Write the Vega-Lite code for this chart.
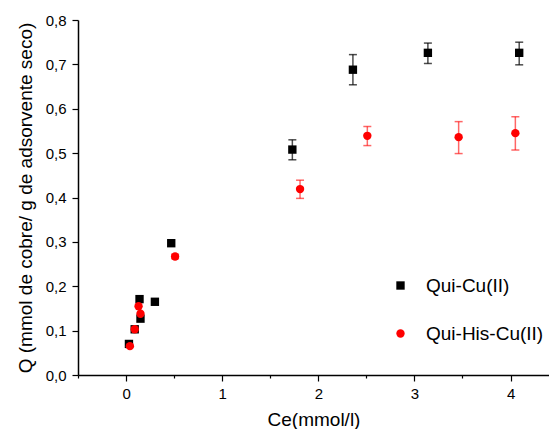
{
  "$schema": "https://vega.github.io/schema/vega-lite/v6.json",
  "width": 471,
  "height": 355,
  "autosize": {"type": "none"},
  "padding": {"left": 78, "top": 20, "right": 0, "bottom": 54},
  "background": "white",
  "config": {
    "view": {"stroke": null},
    "font": "Liberation Sans"
  },
  "data": {
    "values": [
      {"series": "Qui-Cu(II)", "x": 0.03, "y": 0.070, "lo": null, "hi": null},
      {"series": "Qui-Cu(II)", "x": 0.09, "y": 0.103, "lo": null, "hi": null},
      {"series": "Qui-Cu(II)", "x": 0.14, "y": 0.171, "lo": null, "hi": null},
      {"series": "Qui-Cu(II)", "x": 0.15, "y": 0.127, "lo": null, "hi": null},
      {"series": "Qui-Cu(II)", "x": 0.30, "y": 0.165, "lo": null, "hi": null},
      {"series": "Qui-Cu(II)", "x": 0.47, "y": 0.297, "lo": null, "hi": null},
      {"series": "Qui-Cu(II)", "x": 1.73, "y": 0.508, "lo": 0.485, "hi": 0.530},
      {"series": "Qui-Cu(II)", "x": 2.36, "y": 0.688, "lo": 0.654, "hi": 0.722},
      {"series": "Qui-Cu(II)", "x": 3.14, "y": 0.726, "lo": 0.702, "hi": 0.748},
      {"series": "Qui-Cu(II)", "x": 4.09, "y": 0.726, "lo": 0.699, "hi": 0.750},
      {"series": "Qui-His-Cu(II)", "x": 0.04, "y": 0.065, "lo": null, "hi": null},
      {"series": "Qui-His-Cu(II)", "x": 0.09, "y": 0.103, "lo": null, "hi": null},
      {"series": "Qui-His-Cu(II)", "x": 0.13, "y": 0.155, "lo": null, "hi": null},
      {"series": "Qui-His-Cu(II)", "x": 0.15, "y": 0.138, "lo": null, "hi": null},
      {"series": "Qui-His-Cu(II)", "x": 0.51, "y": 0.267, "lo": 0.262, "hi": 0.272},
      {"series": "Qui-His-Cu(II)", "x": 1.81, "y": 0.419, "lo": 0.398, "hi": 0.439},
      {"series": "Qui-His-Cu(II)", "x": 2.51, "y": 0.539, "lo": 0.517, "hi": 0.560},
      {"series": "Qui-His-Cu(II)", "x": 3.46, "y": 0.536, "lo": 0.499, "hi": 0.571},
      {"series": "Qui-His-Cu(II)", "x": 4.05, "y": 0.545, "lo": 0.507, "hi": 0.582}
    ]
  },
  "layer": [
    {
      "transform": [{"filter": "datum.lo != null && datum.series == 'Qui-Cu(II)'"}],
      "mark": {"type": "errorbar", "ticks": {"size": 8}, "thickness": 1.5, "opacity": 0.7, "color": "#000000"},
      "encoding": {
        "x": {"field": "x", "type": "quantitative", "scale": {"domain": [-0.5, 4.4], "nice": false, "zero": false}},
        "y": {"field": "lo", "type": "quantitative", "scale": {"domain": [0, 0.8], "nice": false}, "title": "Q (mmol de cobre/ g de adsorvente seco)"},
        "y2": {"field": "hi"}
      }
    },
    {
      "transform": [{"filter": "datum.lo != null && datum.series == 'Qui-His-Cu(II)'"}],
      "mark": {"type": "errorbar", "ticks": {"size": 8}, "thickness": 1.5, "opacity": 0.6, "color": "#ff0000"},
      "encoding": {
        "x": {"field": "x", "type": "quantitative", "scale": {"domain": [-0.5, 4.4], "nice": false, "zero": false}},
        "y": {"field": "lo", "type": "quantitative", "scale": {"domain": [0, 0.8], "nice": false}, "title": "Q (mmol de cobre/ g de adsorvente seco)"},
        "y2": {"field": "hi"}
      }
    },
    {
      "mark": {"type": "point", "filled": true, "opacity": 1, "size": 70},
      "encoding": {
        "x": {
          "field": "x", "type": "quantitative",
          "scale": {"domain": [-0.5, 4.4], "nice": false, "zero": false},
          "axis": {
            "values": [-0.5, 0, 0.5, 1, 1.5, 2, 2.5, 3, 3.5, 4],
            "labelExpr": "datum.value % 1 == 0 ? format(datum.value, 'd') : ''",
            "tickSize": {"condition": {"test": "datum.value % 1 == 0", "value": 6}, "value": 3},
            "grid": false,
            "domainColor": "#000000",
            "domainWidth": 1.5,
            "tickColor": "#000000",
            "tickWidth": 1.2,
            "labelColor": "#000000",
            "labelFontSize": 15,
            "labelPadding": 5,
            "title": "Ce(mmol/l)",
            "titleFontSize": 19,
            "titleFontWeight": "normal",
            "titleColor": "#000000",
            "titlePadding": 9
          }
        },
        "y": {
          "field": "y", "type": "quantitative",
          "scale": {"domain": [0, 0.8], "nice": false},
          "axis": {
            "values": [0, 0.05, 0.1, 0.15, 0.2, 0.25, 0.3, 0.35, 0.4, 0.45, 0.5, 0.55, 0.6, 0.65, 0.7, 0.75, 0.8],
            "labelExpr": "round(datum.value * 20) % 2 == 0 ? replace(format(datum.value, '.1f'), '.', ',') : ''",
            "tickSize": {"condition": {"test": "round(datum.value * 20) % 2 == 0", "value": 6}, "value": 3},
            "grid": false,
            "domainColor": "#000000",
            "domainWidth": 1.5,
            "tickColor": "#000000",
            "tickWidth": 1.2,
            "labelColor": "#000000",
            "labelFontSize": 15,
            "labelPadding": 6,
            "title": "Q (mmol de cobre/ g de adsorvente seco)",
            "titleFontSize": 19,
            "titleFontWeight": "normal",
            "titleColor": "#000000",
            "titlePadding": 10
          }
        },
        "color": {
          "field": "series", "type": "nominal",
          "scale": {"domain": ["Qui-Cu(II)", "Qui-His-Cu(II)"], "range": ["#000000", "#ff0000"]},
          "legend": {
            "title": null,
            "orient": "none",
            "legendX": 313,
            "legendY": 256,
            "padding": 0,
            "symbolSize": 70,
            "labelFontSize": 19,
            "labelColor": "#000000",
            "labelOffset": 16,
            "rowPadding": 28
          }
        },
        "shape": {
          "field": "series", "type": "nominal",
          "scale": {"domain": ["Qui-Cu(II)", "Qui-His-Cu(II)"], "range": ["square", "circle"]},
          "legend": {
            "title": null,
            "orient": "none",
            "legendX": 313,
            "legendY": 256,
            "padding": 0,
            "symbolSize": 70,
            "labelFontSize": 19,
            "labelColor": "#000000",
            "labelOffset": 16,
            "rowPadding": 28
          }
        }
      }
    }
  ]
}
